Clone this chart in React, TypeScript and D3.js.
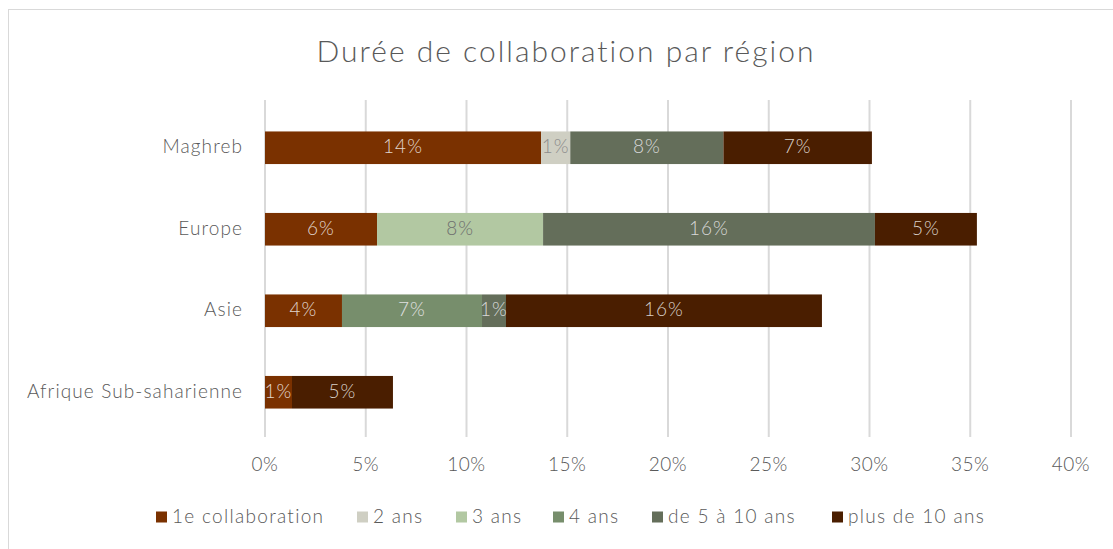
import React from "react";
import * as d3 from "d3";

const categories = ["Maghreb", "Europe", "Asie", "Afrique Sub-saharienne"];
const seriesNames = ["1e collaboration", "2 ans", "3 ans", "4 ans", "de 5 à 10 ans", "plus de 10 ans"];
const seriesColors = ["#7A3100", "#CFCFC3", "#B2C8A2", "#778E6C", "#646E5A", "#4A1E00"];
const labelColors = ["#E0D6CE", "#8C8C8C", "#6E6E6E", "#E0E0E0", "#D9D9D9", "#D9D0C8"];
// values in percent, per series, per category (Maghreb, Europe, Asie, Afrique)
const v1e = [13.7, 5.56, 3.82, 1.34];
const v2 = [1.45, 0, 0, 0];
const v3 = [0, 8.24, 0, 0];
const v4 = [0, 0, 6.95, 0];
const v5to10 = [7.6, 16.47, 1.19, 0];
const vPlus10 = [7.37, 5.06, 15.68, 5.01];
const seriesValues = [v1e, v2, v3, v4, v5to10, vPlus10];
const xTicks = [0, 5, 10, 15, 20, 25, 30, 35, 40];

const FONT = "'Lato', 'Open Sans', 'DejaVu Sans', sans-serif";

export default function App() {
  const W = 1113, H = 549;
  const x = d3.scaleLinear().domain([0, 40]).range([265, 1071]);
  const y = d3.scaleBand().domain(categories).range([107, 433]).paddingInner(0.6).paddingOuter(0.3);
  const bh = y.bandwidth();

  const stacked: { cat: string; s: number; x0: number; x1: number; v: number }[] = [];
  categories.forEach((c, ci) => {
    let acc = 0;
    seriesValues.forEach((vals, si) => {
      const v = vals[ci];
      if (v > 0) {
        stacked.push({ cat: c, s: si, x0: acc, x1: acc + v, v });
        acc += v;
      }
    });
  });

  const legendX = [156, 357, 456, 553, 652, 832];

  return (
    <svg width={W} height={H} style={{ position: "absolute", left: 0, top: 0, background: "#fff" }} fontFamily={FONT}>
      <rect x={8.5} y={9.5} width={1200} height={700} fill="#fff" stroke="#D9D9D9" strokeWidth={1} />
      <text x={566} y={55} textAnchor="middle" dominantBaseline="middle" fontSize={30} fontWeight={300} fill="#595959" letterSpacing={2}>
        Durée de collaboration par région
      </text>
      {xTicks.map((t) => (
        <line key={t} x1={x(t)} x2={x(t)} y1={100} y2={437} stroke="#D9D9D9" strokeWidth={2} />
      ))}
      {stacked.map((d, i) => (
        <rect key={i} x={x(d.x0)} y={y(d.cat)!} width={x(d.x1) - x(d.x0)} height={bh} fill={seriesColors[d.s]} />
      ))}
      {stacked.map((d, i) => (
        <text key={"l" + i} x={(x(d.x0) + x(d.x1)) / 2} y={y(d.cat)! + bh / 2 + 1} textAnchor="middle" dominantBaseline="middle"
          fontSize={19} fontWeight={300} fill={labelColors[d.s]} letterSpacing={1}>
          {Math.round(d.v) + "%"}
        </text>
      ))}
      {categories.map((c) => (
        <text key={c} x={243} y={y(c)! + bh / 2 + 1} textAnchor="end" dominantBaseline="middle" fontSize={19} fontWeight={300} fill="#595959" letterSpacing={1.1}>
          {c}
        </text>
      ))}
      {xTicks.map((t) => (
        <text key={"t" + t} x={x(t)} y={466} textAnchor="middle" dominantBaseline="middle" fontSize={19} fontWeight={300} fill="#595959" letterSpacing={0.5}>
          {t + "%"}
        </text>
      ))}
      {seriesNames.map((n, i) => (
        <g key={n} transform={`translate(${legendX[i]},517)`}>
          <rect x={0} y={-5.5} width={11} height={11} fill={seriesColors[i]} />
          <text x={16} y={1} dominantBaseline="middle" fontSize={19} fontWeight={300} fill="#595959" letterSpacing={1.3}>{n}</text>
        </g>
      ))}
    </svg>
  );
}
